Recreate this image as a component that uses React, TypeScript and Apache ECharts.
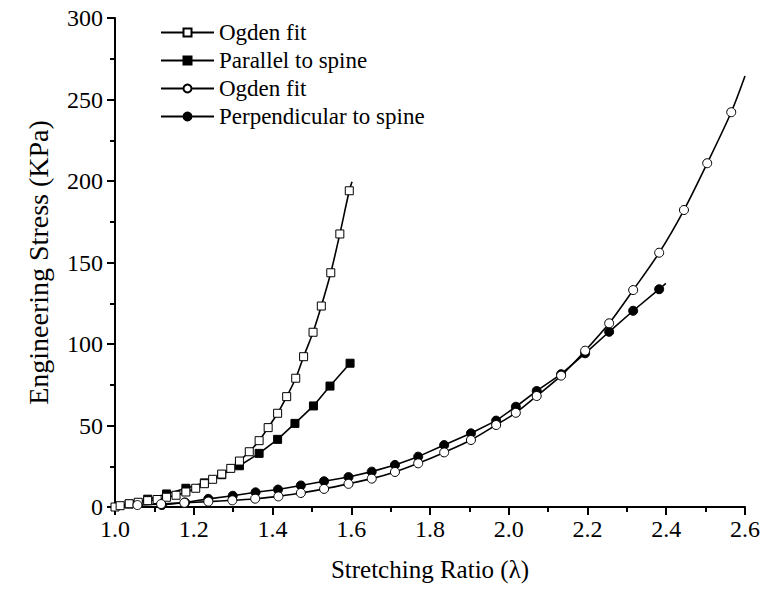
import React, { useEffect, useRef } from "react";
import * as echarts from "echarts";

// Ogden fit (parallel) – open squares
const parFitLambda = [1.0, 1.013, 1.036, 1.059, 1.083, 1.107, 1.131, 1.155, 1.18, 1.205, 1.227, 1.248, 1.271, 1.294, 1.316, 1.341, 1.366, 1.389, 1.413, 1.436, 1.459, 1.479, 1.503, 1.524, 1.548, 1.571, 1.595];
const parFitStress = [0, 0.8, 2.0, 2.9, 3.9, 4.6, 6.0, 7.2, 9.2, 11.5, 14.3, 17.0, 20.2, 23.7, 28.2, 33.9, 40.7, 48.7, 57.5, 67.7, 79.0, 92.2, 107.2, 123.3, 143.7, 167.5, 194.0];
const parFitEnd = [1.602, 199.5];

// Parallel to spine – filled squares
const parLambda = [1.036, 1.083, 1.131, 1.18, 1.227, 1.271, 1.316, 1.366, 1.413, 1.457, 1.504, 1.546, 1.597];
const parStress = [1.8, 4.8, 8.0, 11.5, 14.8, 19.8, 25.3, 32.9, 41.5, 51.3, 62.0, 74.2, 88.2];

// Ogden fit (perpendicular) – open circles
const perpFitStart = [1.0, 0];
const perpFitLambda = [1.057, 1.117, 1.176, 1.237, 1.298, 1.356, 1.415, 1.472, 1.531, 1.593, 1.652, 1.711, 1.77, 1.836, 1.904, 1.968, 2.018, 2.071, 2.133, 2.194, 2.255, 2.316, 2.382, 2.445, 2.504, 2.565];
const perpFitStress = [1.2, 1.8, 2.6, 3.3, 4.1, 5.1, 6.5, 8.6, 11.1, 14.2, 17.4, 21.5, 26.8, 33.5, 41.1, 50.3, 57.8, 68.1, 80.6, 95.9, 112.7, 133.1, 156.0, 182.2, 210.9, 242.2];
const perpFitEnd = [2.6, 264.4];

// Perpendicular to spine – filled circles
const perpLambda = [1.119, 1.178, 1.237, 1.299, 1.357, 1.414, 1.472, 1.531, 1.593, 1.652, 1.711, 1.77, 1.836, 1.904, 1.968, 2.018, 2.071, 2.133, 2.194, 2.255, 2.316, 2.382];
const perpStress = [1.2, 2.8, 5.0, 6.9, 9.0, 10.7, 13.2, 15.8, 18.4, 21.7, 25.8, 30.9, 38.0, 45.2, 53.0, 61.5, 71.2, 81.5, 94.3, 107.5, 120.4, 133.6];
const perpEnd = [2.399, 137.2];

const xTicks = { min: 1.0, max: 2.6, interval: 0.2 };
const yTicks = { min: 0, max: 300, interval: 50 };

const FONT = "'Liberation Serif', 'Times New Roman', serif";

function pts(xs: number[], ys: number[]) {
  return xs.map((x, i) => [x, ys[i]]);
}

export default function App() {
  const ref = useRef<HTMLDivElement>(null);
  useEffect(() => {
    document.body.style.margin = "0";
    const chart = echarts.init(ref.current!, null, { renderer: "svg" });
    const common = {
      type: "line",
      showSymbol: true,
      showAllSymbol: true,
      clip: false,
      lineStyle: { color: "#000", width: 1.6 },
    };
    chart.setOption({
      animation: false,
      backgroundColor: "#fff",
      grid: { left: 115, right: 20, top: 18, bottom: 84, containLabel: false },
      legend: {
        orient: "vertical",
        left: 160,
        top: 21,
        padding: 0,
        itemWidth: 53,
        itemHeight: 10,
        itemGap: 5,
        textStyle: { fontFamily: FONT, fontSize: 23, color: "#000" },
        formatter: (n: string) => (n.indexOf("Ogden") === 0 ? "Ogden fit" : n),
        data: ["Ogden fit (parallel)", "Parallel to spine", "Ogden fit (perpendicular)", "Perpendicular to spine"],
      },
      xAxis: {
        type: "value",
        min: xTicks.min,
        max: xTicks.max,
        interval: xTicks.interval,
        name: "Stretching Ratio (λ)",
        nameLocation: "middle",
        nameGap: 50,
        nameTextStyle: { fontFamily: FONT, fontSize: 25, color: "#000" },
        axisLine: { show: true, lineStyle: { color: "#000", width: 2 } },
        axisTick: { show: true, inside: false, length: 8, lineStyle: { color: "#000", width: 2 } },
        minorTick: { show: true, splitNumber: 2, length: 5, lineStyle: { color: "#000", width: 2 } },
        axisLabel: { fontFamily: FONT, fontSize: 24, color: "#000", margin: 10, formatter: (v: number) => v.toFixed(1) },
        splitLine: { show: false },
      },
      yAxis: {
        type: "value",
        min: yTicks.min,
        max: yTicks.max,
        interval: yTicks.interval,
        name: "Engineering Stress (KPa)",
        nameLocation: "middle",
        nameGap: 63,
        nameRotate: 90,
        nameTextStyle: { fontFamily: FONT, fontSize: 28, color: "#000" },
        axisLine: { show: true, lineStyle: { color: "#000", width: 2 } },
        axisTick: { show: true, inside: false, length: 8, lineStyle: { color: "#000", width: 2 } },
        minorTick: { show: true, splitNumber: 2, length: 5, lineStyle: { color: "#000", width: 2 } },
        axisLabel: { fontFamily: FONT, fontSize: 24, color: "#000", margin: 12 },
        splitLine: { show: false },
      },
      series: [
        {
          ...common,
          name: "Ogden fit (parallel)",
          z: 4,
          smooth: 0.3,
          symbol: "rect",
          symbolSize: 8,
          itemStyle: { color: "#fff", borderColor: "#000", borderWidth: 1 },
          data: [...pts(parFitLambda, parFitStress), { value: parFitEnd, symbol: "none" }],
        },
        {
          ...common,
          name: "Parallel to spine",
          z: 2,
          symbol: "rect",
          symbolSize: 8,
          itemStyle: { color: "#000", borderColor: "#000", borderWidth: 1 },
          data: pts(parLambda, parStress),
        },
        {
          ...common,
          name: "Ogden fit (perpendicular)",
          z: 4,
          smooth: 0.3,
          symbol: "circle",
          symbolSize: 9,
          itemStyle: { color: "#fff", borderColor: "#000", borderWidth: 1 },
          data: [{ value: perpFitStart, symbol: "none" }, ...pts(perpFitLambda, perpFitStress), { value: perpFitEnd, symbol: "none" }],
        },
        {
          ...common,
          name: "Perpendicular to spine",
          z: 2,
          symbol: "circle",
          symbolSize: 9,
          itemStyle: { color: "#000", borderColor: "#000", borderWidth: 1 },
          data: [...pts(perpLambda, perpStress), { value: perpEnd, symbol: "none" }],
        },
      ],
    });
    return () => chart.dispose();
  }, []);
  return <div ref={ref} style={{ width: 765, height: 591 }} />;
}
